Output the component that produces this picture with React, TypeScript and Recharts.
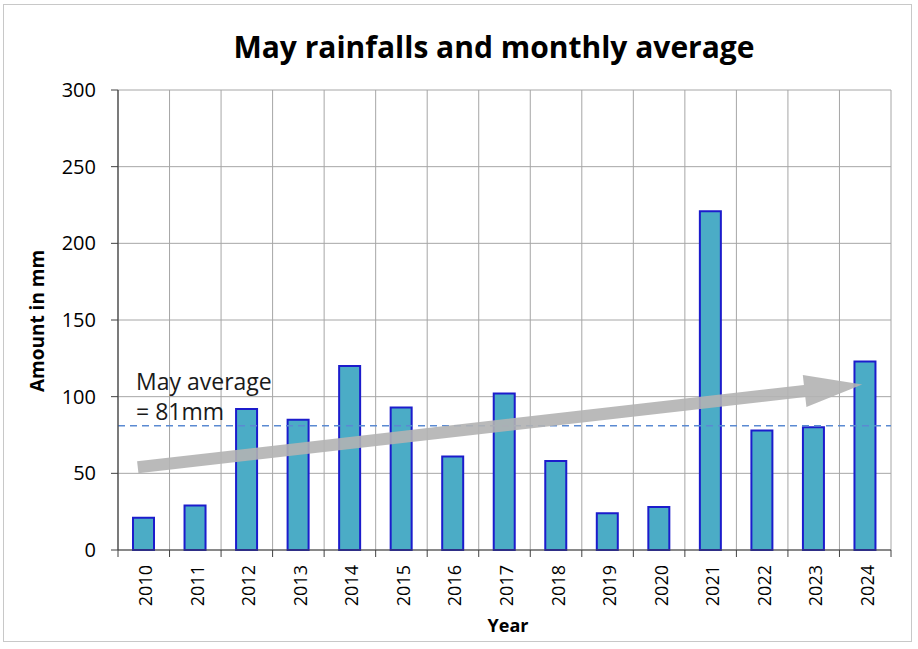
import React from 'react';
import { BarChart, Bar, XAxis, YAxis, CartesianGrid, ReferenceLine } from 'recharts';

const years = ['2010', '2011', '2012', '2013', '2014', '2015', '2016', '2017', '2018', '2019', '2020', '2021', '2022', '2023', '2024'];
const rainfall = [21, 29, 92, 85, 120, 93, 61, 102, 58, 24, 28, 221, 78, 80, 123];
const yTicks = [0, 50, 100, 150, 200, 250, 300];
const mayAverage = 81;
const trendStart = 54;
const trendEnd = 108;

const data = years.map((y, i) => ({ year: y, rain: rainfall[i] }));

const W = 918;
const H = 649;
const M = { top: 90, right: 27, left: 0, bottom: 0 };
const YAXIS_W = 118;
const XAXIS_H = 99;
const PLOT_W = W - M.left - M.right - YAXIS_W;
const PLOT_BOTTOM = H - XAXIS_H;
const BW = PLOT_W / years.length;
const FONT = "'Open Sans', sans-serif";

const XTick = (props: any) => {
  const { x, payload, index } = props;
  const cx = x + 2;
  const cy = PLOT_BOTTOM + 15;
  return (
    <g>
      <line x1={x - BW / 2} y1={PLOT_BOTTOM} x2={x - BW / 2} y2={PLOT_BOTTOM + 7} stroke="#404040" strokeWidth={1} />
      {index === years.length - 1 && (
        <line x1={x + BW / 2} y1={PLOT_BOTTOM} x2={x + BW / 2} y2={PLOT_BOTTOM + 7} stroke="#404040" strokeWidth={1} />
      )}
      <text
        x={cx}
        y={cy}
        dy="0.36em"
        transform={`rotate(-90, ${cx}, ${cy})`}
        textAnchor="end"
        fontFamily={FONT}
        fontSize={18}
        fill="#000"
      >
        {payload.value}
      </text>
    </g>
  );
};

const Arrow = (p: any) => {
  const { x1, y1, x2, y2 } = p;
  if ([x1, y1, x2, y2].some((v) => typeof v !== 'number')) return <g />;
  const sx = x1 - 6;
  const ex = x2 - 3;
  const dx = ex - sx;
  const dy = y2 - y1;
  const len = Math.sqrt(dx * dx + dy * dy);
  const ux = dx / len;
  const uy = dy / len;
  const nx = -uy;
  const ny = ux;
  const headL = 58;
  const headW = 16;
  const shaftW = 6;
  const bx = ex - ux * headL;
  const by = y2 - uy * headL;
  const pts = [
    [sx + nx * shaftW, y1 + ny * shaftW],
    [bx + nx * shaftW, by + ny * shaftW],
    [bx + nx * headW, by + ny * headW],
    [ex, y2],
    [bx - nx * headW, by - ny * headW],
    [bx - nx * shaftW, by - ny * shaftW],
    [sx - nx * shaftW, y1 - ny * shaftW],
  ]
    .map((q) => q.join(','))
    .join(' ');
  return <polygon points={pts} fill="#b3b3b3" fillOpacity={0.9} />;
};

export default function App() {
  return (
    <div style={{ position: 'relative', width: W, height: H, background: '#fff' }}>
      <style>{`body{margin:0;}`}</style>
      <div
        style={{
          position: 'absolute',
          left: 3,
          top: 4,
          width: 909,
          height: 638,
          border: '1px solid #c8c8c8',
          boxSizing: 'border-box',
        }}
      />
      <BarChart width={W} height={H} data={data} margin={M} barCategoryGap={0}>
        <CartesianGrid
          stroke="#a6a6a6"
          strokeWidth={1}
          verticalCoordinatesGenerator={({ offset }: any) =>
            Array.from({ length: years.length + 1 }, (_, i) => offset.left + (i * offset.width) / years.length)
          }
        />
        <XAxis
          dataKey="year"
          height={XAXIS_H}
          tickLine={false}
          axisLine={{ stroke: '#404040', strokeWidth: 1.2 }}
          interval={0}
          tick={<XTick />}
        />
        <YAxis
          width={YAXIS_W}
          domain={[0, 300]}
          ticks={yTicks}
          tickSize={7}
          tickMargin={15}
          axisLine={{ stroke: '#404040', strokeWidth: 1.2 }}
          tickLine={{ stroke: '#404040' }}
          tick={{ fontFamily: FONT, fontSize: 20, fill: '#000' }}
        />
        <Bar dataKey="rain" fill="#4bacc6" stroke="#1c1ccc" strokeWidth={2} barSize={21} isAnimationActive={false} />
        <ReferenceLine y={mayAverage} stroke="#5a8ad2" strokeWidth={1.5} strokeDasharray="7 5" />
        <ReferenceLine
          segment={[
            { x: years[0], y: trendStart },
            { x: years[years.length - 1], y: trendEnd },
          ]}
          shape={<Arrow />}
        />
      </BarChart>
      <svg
        width={W}
        height={H}
        style={{ position: 'absolute', left: 0, top: 0, pointerEvents: 'none' }}
      >
        <text x={494} y={58} textAnchor="middle" fontFamily={FONT} fontWeight={700} fontSize={30} fill="#000">
          May rainfalls and monthly average
        </text>
        <text
          x={44}
          y={321}
          textAnchor="middle"
          transform="rotate(-90, 44, 321)"
          fontFamily={FONT}
          fontWeight={700}
          fontSize={19}
          fill="#000"
        >
          Amount in mm
        </text>
        <text x={508} y={632} textAnchor="middle" fontFamily={FONT} fontWeight={700} fontSize={18} fill="#000">
          Year
        </text>
        <text x={136} y={390} fontFamily={FONT} fontSize={23} fill="#1a1a1a">
          May average
        </text>
        <text x={136} y={420} fontFamily={FONT} fontSize={23} fill="#1a1a1a">
          = 81mm
        </text>
      </svg>
    </div>
  );
}
